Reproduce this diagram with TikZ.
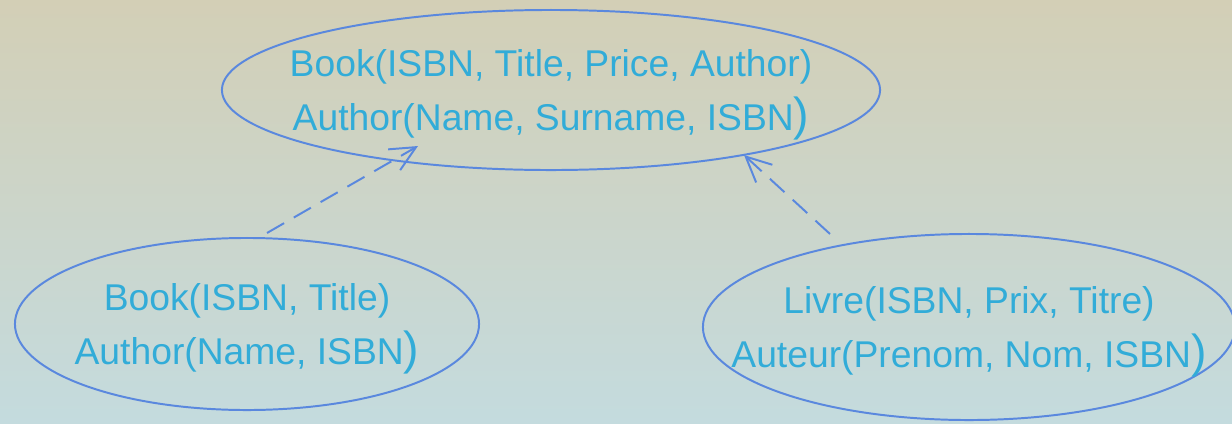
\documentclass[tikz,border=0pt]{standalone}
\usepackage{fontspec}
\setmainfont{Liberation Sans}
\usepackage{xcolor}
\usetikzlibrary{
		positioning,
		arrows.meta,
		shapes.geometric
	}
\tikzset{
		>={Straight Barb[length=6.3mm,width=6mm]}
	}
\definecolor{ringblue}{RGB}{90,136,222}
\definecolor{textcyan}{RGB}{50,172,216}
\definecolor{bgtop}{RGB}{211,207,182}
\definecolor{bgbottom}{RGB}{196,219,222}
\newcommand{\Close}{{\fontsize{33}{38}\selectfont)}}
\newcommand{\Lift}{\rule{0pt}{26pt}}

\begin{document}
\begin{tikzpicture}[x=0.025cm, y=-0.025cm,
				schema/.style={ellipse, draw=ringblue, line width=1.4pt, text=textcyan, align=center,
					font=\fontsize{26.5}{38}\selectfont, inner xsep=-3cm, inner ysep=0pt, outer sep=0pt},
				mapping/.style={->, draw=ringblue, line width=1.4pt, dash pattern=on 14pt off 8pt}]
		\useasboundingbox (0,0) rectangle (1232,423);
		\shade[top color=bgtop, bottom color=bgbottom] (0,0) rectangle (1232,423);
		% global schema
		\node[schema, minimum width=16.45cm, minimum height=4cm] (global) at (551,90)
			{\Lift Book(ISBN, Title, Price, Author)\\Author(Name, Surname, ISBN\Close};
		% local schemas
		\node[schema, minimum width=11.6cm, minimum height=4.3cm] (left) at (247,324)
			{\Lift Book(ISBN, Title)\\Author(Name, ISBN\Close};
		\node[schema, minimum width=13.3cm, minimum height=4.65cm] (right) at (969,327)
			{\Lift Livre(ISBN, Prix, Titre)\\Auteur(Prenom, Nom, ISBN\Close};
		\draw[mapping] ([shift={(20,-5)}]left.north) -- ([shift={(-133,-24)}]global.south);
		\draw[mapping] ([shift={(-139,0)}]right.north) -- ([shift={(193,-15)}]global.south);
	\end{tikzpicture}
\end{document}
